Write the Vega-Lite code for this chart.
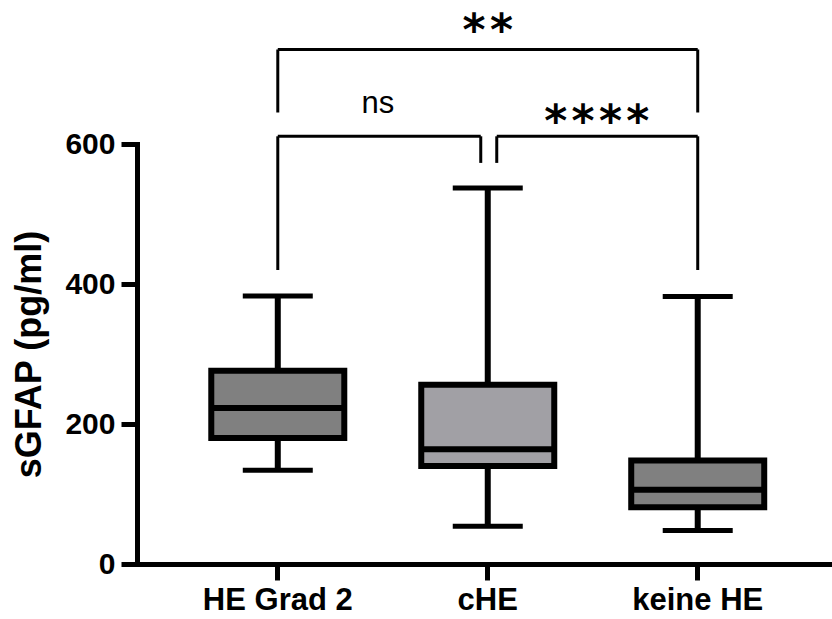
{
  "$schema": "https://vega.github.io/schema/vega-lite/v6.json",
  "autosize": "none",
  "width": 695,
  "height": 420,
  "padding": {"left": 137, "top": 144, "right": 0, "bottom": 55},
  "background": "white",
  "config": {
    "view": {"stroke": null},
    "font": "Liberation Sans"
  },
  "datasets": {
    "boxes": [
      {"group": "HE Grad 2", "min": 134, "q1": 180, "median": 223, "q3": 276, "max": 383},
      {"group": "cHE", "min": 54, "q1": 140, "median": 164, "q3": 256, "max": 537},
      {"group": "keine HE", "min": 48, "q1": 81, "median": 106, "q3": 148, "max": 382}
    ],
    "brackets": [
      {"a": "HE Grad 2", "b": "keine HE", "lo": 735, "hi": 735, "shift": "none"},
      {"a": "HE Grad 2", "b": "HE Grad 2", "lo": 645, "hi": 735, "shift": "none"},
      {"a": "keine HE", "b": "keine HE", "lo": 645, "hi": 735, "shift": "none"},
      {"a": "HE Grad 2", "b": "HE Grad 2", "lo": 420, "hi": 611, "shift": "none"},
      {"a": "keine HE", "b": "keine HE", "lo": 420, "hi": 611, "shift": "none"},
      {"a": "HE Grad 2", "b": "cHE", "lo": 611, "hi": 611, "shift": "leftend"},
      {"a": "cHE", "b": "cHE", "lo": 573, "hi": 611, "shift": "left"},
      {"a": "cHE", "b": "keine HE", "lo": 611, "hi": 611, "shift": "rightstart"},
      {"a": "cHE", "b": "cHE", "lo": 573, "hi": 611, "shift": "right"}
    ],
    "labels": [
      {"at": "cHE", "y": 742, "text": "*\u200a*", "kind": "top"},
      {"at": "HE Grad 2", "y": 644, "text": "ns", "kind": "ns"},
      {"at": "cHE", "y": 612, "text": "*\u200a*\u200a*\u200a*", "kind": "right"}
    ]
  },
  "encoding": {
    "x": {
      "field": "group",
      "type": "nominal",
      "scale": {"type": "band", "domain": ["HE Grad 2", "cHE", "keine HE"], "paddingInner": 0, "paddingOuter": 0.155, "align": 0.55},
      "axis": {
        "title": null,
        "labelAngle": 0,
        "labelFont": "Liberation Sans",
        "labelFontWeight": "bold",
        "labelFontSize": 31,
        "labelColor": "black",
        "labelPadding": 5,
        "tickSize": 16,
        "tickWidth": 5,
        "tickColor": "black",
        "domainColor": "black",
        "domainWidth": 5,
        "domainCap": "square"
      }
    }
  },
  "layer": [
    {
      "data": {"name": "boxes"},
      "mark": {"type": "rule", "color": "black", "strokeWidth": 6},
      "encoding": {
        "y": {
          "field": "min",
          "type": "quantitative",
          "scale": {"domain": [0, 600], "nice": false},
          "axis": {
            "values": [0, 200, 400, 600],
            "grid": false,
            "title": "sGFAP (pg/ml)",
            "titleFont": "Liberation Sans",
            "titleFontWeight": "bold",
            "titleFontSize": 36,
            "titleColor": "black",
            "titlePadding": 16,
            "labelFont": "Liberation Sans",
            "labelFontWeight": "bold",
            "labelFontSize": 30,
            "labelColor": "black",
            "labelPadding": 6,
            "tickSize": 16,
            "tickWidth": 5,
            "tickColor": "black",
            "domainColor": "black",
            "domainWidth": 5,
            "domainCap": "square"
          }
        },
        "y2": {"field": "max"}
      }
    },
    {
      "data": {"name": "boxes"},
      "mark": {"type": "tick", "color": "black", "size": 70, "thickness": 5, "opacity": 1},
      "encoding": {"y": {"field": "min", "type": "quantitative"}}
    },
    {
      "data": {"name": "boxes"},
      "mark": {"type": "tick", "color": "black", "size": 70, "thickness": 5, "opacity": 1},
      "encoding": {"y": {"field": "max", "type": "quantitative"}}
    },
    {
      "data": {"name": "boxes"},
      "mark": {"type": "bar", "size": 133, "stroke": "black", "strokeWidth": 6, "opacity": 1},
      "encoding": {
        "y": {"field": "q1", "type": "quantitative"},
        "y2": {"field": "q3"},
        "fill": {
          "field": "group",
          "type": "nominal",
          "scale": {"domain": ["HE Grad 2", "cHE", "keine HE"], "range": ["#808080", "#A1A0A5", "#808080"]},
          "legend": null
        }
      }
    },
    {
      "data": {"name": "boxes"},
      "mark": {"type": "tick", "color": "black", "size": 133, "thickness": 6, "opacity": 1},
      "encoding": {"y": {"field": "median", "type": "quantitative"}}
    },
    {
      "data": {"name": "brackets"},
      "transform": [{"filter": "datum.shift == 'none'"}],
      "mark": {"type": "rule", "color": "black", "strokeWidth": 3},
      "encoding": {
        "x": {"field": "a", "type": "nominal"},
        "x2": {"field": "b"},
        "y": {"field": "lo", "type": "quantitative"},
        "y2": {"field": "hi"}
      }
    },
    {
      "data": {"name": "brackets"},
      "transform": [{"filter": "datum.shift == 'leftend'"}],
      "mark": {"type": "rule", "color": "black", "strokeWidth": 3, "x2Offset": -7},
      "encoding": {
        "x": {"field": "a", "type": "nominal"},
        "x2": {"field": "b"},
        "y": {"field": "lo", "type": "quantitative"},
        "y2": {"field": "hi"}
      }
    },
    {
      "data": {"name": "brackets"},
      "transform": [{"filter": "datum.shift == 'left'"}],
      "mark": {"type": "rule", "color": "black", "strokeWidth": 3, "xOffset": -7, "x2Offset": -7},
      "encoding": {
        "x": {"field": "a", "type": "nominal"},
        "x2": {"field": "b"},
        "y": {"field": "lo", "type": "quantitative"},
        "y2": {"field": "hi"}
      }
    },
    {
      "data": {"name": "brackets"},
      "transform": [{"filter": "datum.shift == 'rightstart'"}],
      "mark": {"type": "rule", "color": "black", "strokeWidth": 3, "xOffset": 9},
      "encoding": {
        "x": {"field": "a", "type": "nominal"},
        "x2": {"field": "b"},
        "y": {"field": "lo", "type": "quantitative"},
        "y2": {"field": "hi"}
      }
    },
    {
      "data": {"name": "brackets"},
      "transform": [{"filter": "datum.shift == 'right'"}],
      "mark": {"type": "rule", "color": "black", "strokeWidth": 3, "xOffset": 9, "x2Offset": 9},
      "encoding": {
        "x": {"field": "a", "type": "nominal"},
        "x2": {"field": "b"},
        "y": {"field": "lo", "type": "quantitative"},
        "y2": {"field": "hi"}
      }
    },
    {
      "data": {"name": "labels"},
      "transform": [{"filter": "datum.kind == 'top'"}],
      "mark": {"type": "text", "font": "DejaVu Sans", "fontWeight": "bold", "fontSize": 44, "color": "black", "baseline": "alphabetic", "align": "center"},
      "encoding": {
        "x": {"field": "at", "type": "nominal"},
        "y": {"field": "y", "type": "quantitative"},
        "text": {"field": "text"}
      }
    },
    {
      "data": {"name": "labels"},
      "transform": [{"filter": "datum.kind == 'ns'"}],
      "mark": {"type": "text", "font": "Liberation Sans", "fontSize": 31, "color": "black", "baseline": "alphabetic", "align": "center", "xOffset": 100},
      "encoding": {
        "x": {"field": "at", "type": "nominal"},
        "y": {"field": "y", "type": "quantitative"},
        "text": {"field": "text"}
      }
    },
    {
      "data": {"name": "labels"},
      "transform": [{"filter": "datum.kind == 'right'"}],
      "mark": {"type": "text", "font": "DejaVu Sans", "fontWeight": "bold", "fontSize": 44, "color": "black", "baseline": "alphabetic", "align": "center", "xOffset": 109},
      "encoding": {
        "x": {"field": "at", "type": "nominal"},
        "y": {"field": "y", "type": "quantitative"},
        "text": {"field": "text"}
      }
    }
  ]
}
